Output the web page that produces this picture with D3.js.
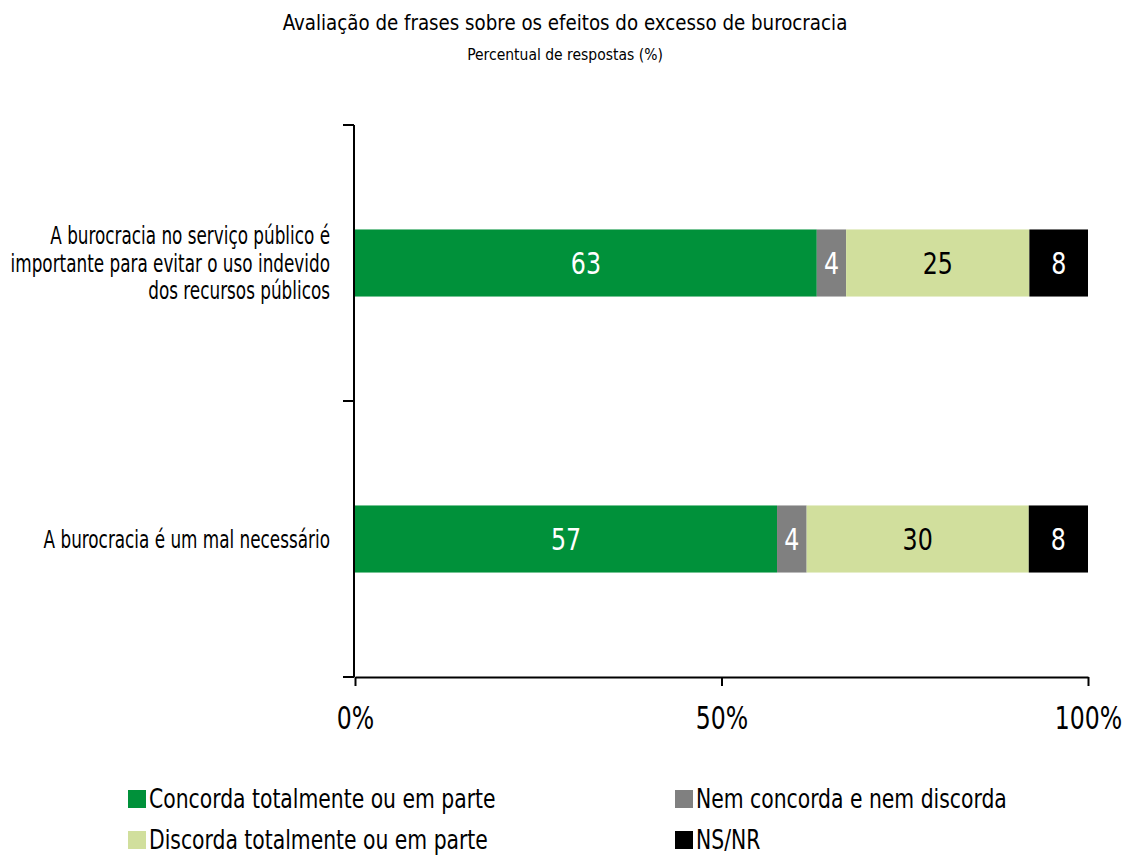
<!DOCTYPE html>
<html>
<head>
<meta charset="utf-8">
<script src="https://cdn.jsdelivr.net/npm/d3@7"></script>
<style>
  html, body { margin: 0; padding: 0; background: #fff; }
  svg text { font-family: "DejaVu Sans Condensed", "DejaVu Sans", sans-serif; font-stretch: condensed; }
</style>
</head>
<body>
<svg id="chart" width="1124" height="855"></svg>
<script>
// Statements evaluated (one bar each)
const categories = [
  ["A burocracia no serviço público é", "importante para evitar o uso indevido", "dos recursos públicos"],
  ["A burocracia é um mal necessário"]
];
// Response options, in stacking order
const seriesNames = [
  "Concorda totalmente ou em parte",
  "Nem concorda e nem discorda",
  "Discorda totalmente ou em parte",
  "NS/NR"
];
// Percent of answers per statement, one array per response option
const concorda = [63, 57];
const nemNem   = [4, 4];
const discorda = [25, 30];
const nsnr     = [8, 8];
const xTickLabels = ["0%", "50%", "100%"];
const xTickValues = [0, 0.5, 1];

const colors = ["#00913a", "#808080", "#d1df9d", "#000000"];
const labelColors = ["#ffffff", "#ffffff", "#000000", "#ffffff"];

const seriesValues = [concorda, nemNem, discorda, nsnr];
const rows = categories.map((c, i) => {
  const r = { key: i };
  seriesNames.forEach((s, j) => { r[s] = seriesValues[j][i]; });
  return r;
});

// 100% stacked layout
const stack = d3.stack().keys(seriesNames).offset(d3.stackOffsetExpand);
const layers = stack(rows);

const svg = d3.select("#chart");
const plotLeft = 355, plotRight = 1088, plotTop = 125, plotBottom = 677;

const x = d3.scaleLinear().domain([0, 1]).range([plotLeft, plotRight]);
const y = d3.scaleBand().domain(categories.map((c, i) => i)).range([plotTop, plotBottom]).padding(0);
const barH = y.bandwidth() * 0.243;

// Text narrowed horizontally around its anchor point
function narrowText(parent, px, py, sx) {
  return parent.append("text")
    .attr("transform", `translate(${px},${py}) scale(${sx},1)`);
}

// Title and subtitle
narrowText(svg, 565, 30, 0.99).attr("text-anchor", "middle")
  .attr("font-size", 20.5).attr("fill", "#000")
  .text("Avaliação de frases sobre os efeitos do excesso de burocracia");
narrowText(svg, 565, 60, 1).attr("text-anchor", "middle")
  .attr("font-size", 15.5).attr("fill", "#000")
  .text("Percentual de respostas (%)");

// Stacked bars with value labels
const g = svg.append("g");
layers.forEach((layer, j) => {
  const lg = g.append("g");
  lg.selectAll("rect").data(layer).join("rect")
    .attr("x", d => x(d[0]))
    .attr("width", d => x(d[1]) - x(d[0]))
    .attr("y", (d, i) => y(i) + y.bandwidth() / 2 - barH / 2)
    .attr("height", barH)
    .attr("fill", colors[j]);
  layer.forEach((d, i) => {
    narrowText(lg, (x(d[0]) + x(d[1])) / 2, y(i) + y.bandwidth() / 2, 0.88)
      .attr("dy", "0.36em")
      .attr("text-anchor", "middle")
      .attr("font-size", 30)
      .attr("fill", labelColors[j])
      .text(seriesValues[j][i]);
  });
});

// Y axis: line with ticks at band boundaries
const yAxis = svg.append("g").attr("stroke", "#000").attr("stroke-width", 2);
yAxis.append("line").attr("x1", plotLeft - 1).attr("x2", plotLeft - 1).attr("y1", plotTop).attr("y2", plotBottom);
const bounds = [y(0), y(1), y(1) + y.bandwidth()];
yAxis.selectAll("line.tick").data(bounds).join("line").attr("class", "tick")
  .attr("x1", plotLeft - 12).attr("x2", plotLeft - 1).attr("y1", d => d).attr("y2", d => d);

// Category labels
categories.forEach((lines, i) => {
  const cy = y(i) + y.bandwidth() / 2;
  const lh = 27.5;
  const t = narrowText(svg, 330, cy, 0.78).attr("text-anchor", "end").attr("font-size", 24).attr("fill", "#000");
  lines.forEach((ln, k) => {
    t.append("tspan").attr("x", 0)
      .attr("y", (k - (lines.length - 1) / 2) * lh)
      .attr("dy", "0.36em").text(ln);
  });
});

// X axis
const xAxis = d3.axisBottom(x).tickValues(xTickValues)
  .tickFormat((d, i) => xTickLabels[i]).tickSize(9).tickSizeOuter(0).tickPadding(20);
const xg = svg.append("g").attr("transform", `translate(0,${plotBottom})`).call(xAxis);
xg.select(".domain").attr("stroke", "#000").attr("stroke-width", 2);
xg.selectAll(".tick line").attr("stroke", "#000").attr("stroke-width", 2);
xg.selectAll(".tick text").attr("font-size", 32).attr("fill", "#000")
  .attr("transform", "scale(0.82,1)")
  .attr("font-family", "\"DejaVu Sans Condensed\", \"DejaVu Sans\", sans-serif");

// Legend
const legendPos = [[128, 799], [675, 799], [128, 840], [675, 840]];
seriesNames.forEach((s, j) => {
  const [lx, ly] = legendPos[j];
  svg.append("rect").attr("x", lx).attr("y", ly - 9).attr("width", 18).attr("height", 18).attr("fill", colors[j]);
  narrowText(svg, lx + 21, ly, 0.87).attr("dy", "0.36em")
    .attr("font-size", 26).attr("fill", "#000").text(s);
});
</script>
</body>
</html>
